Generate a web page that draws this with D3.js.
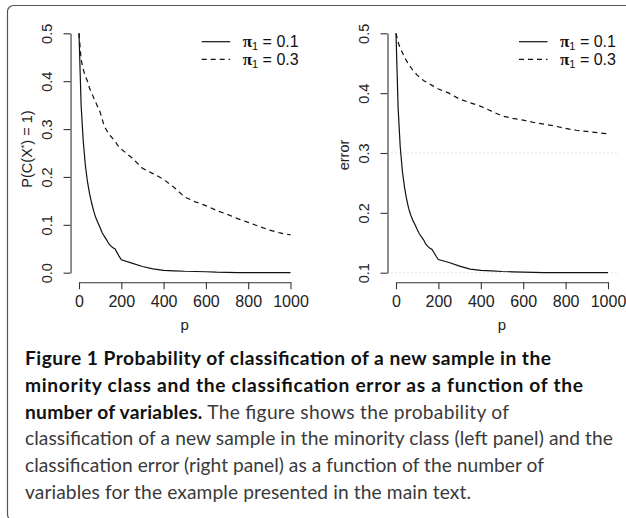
<!DOCTYPE html>
<html><head><meta charset="utf-8">
<script src="https://cdn.jsdelivr.net/npm/d3@7"></script>
<style>
html,body{margin:0;padding:0;background:#fff;}
svg{display:block;}
</style></head>
<body>
<svg id="fig" width="626" height="518"></svg>
<script>
// ---- data ----
const pValues = [0,10,20,30,40,50,60,70,80,90,100,110,120,130,140,150,160,170,180,190,200,
  250,300,350,400,450,500,550,600,650,700,750,800,850,900,950,1000];
const probPi01 = [0.5,0.35,0.275,0.225,0.19,0.165,0.145,0.128,0.114,0.104,0.094,0.083,0.076,0.069,0.061,0.056,0.052,0.05,0.042,0.034,0.027,
  0.02,0.013,0.008,0.005,0.004,0.003,0.0025,0.002,0.001,0.0005,0,0,0,0,0,0];
const probPi03 = [0.5,0.445,0.425,0.41,0.4,0.385,0.375,0.365,0.355,0.345,0.335,0.32,0.305,0.298,0.29,0.285,0.28,0.275,0.268,0.262,0.258,
  0.24,0.218,0.207,0.195,0.178,0.158,0.148,0.14,0.13,0.122,0.113,0.105,0.097,0.089,0.083,0.079];
const errPi01 = [0.5,0.375,0.31,0.27,0.243,0.223,0.207,0.196,0.187,0.18,0.172,0.165,0.16,0.155,0.148,0.144,0.141,0.139,0.133,0.127,0.122,
  0.117,0.111,0.106,0.104,0.103,0.102,0.1015,0.101,0.1005,0.1,0.1,0.1,0.1,0.1,0.1,0.1];
const errPi03 = [0.5,0.485,0.475,0.468,0.46,0.454,0.448,0.443,0.438,0.434,0.43,0.427,0.424,0.421,0.419,0.417,0.415,0.413,0.411,0.409,0.407,
  0.4,0.39,0.384,0.378,0.37,0.362,0.358,0.355,0.351,0.348,0.345,0.341,0.338,0.336,0.334,0.332];
const xTicks = [0,200,400,600,800,1000];
const yTicksLeft = [0,0.1,0.2,0.3,0.4,0.5];
const yTicksRight = [0.1,0.2,0.3,0.4,0.5];
const refLines = [0.3,0.1];
const legendLabels = ["0.1","0.3"];

const svg = d3.select("#fig");
svg.append("rect").attr("width",626).attr("height",518).attr("fill","#fff");
// figure frame
svg.append("rect").attr("x",7.5).attr("y",5.5).attr("width",700).attr("height",515)
  .attr("rx",6).attr("fill","none").attr("stroke","#555").attr("stroke-width",1.2);

const FONT = "'Liberation Sans', Arial, Helvetica, sans-serif";
const AX = "#333";

function panel(cfg){
  const g = svg.append("g");
  const x = d3.scaleLinear().domain([0,1000]).range(cfg.xr);
  const y = d3.scaleLinear().domain(cfg.yd).range([272.7,33.3]);
  const pad = (x(1000)-x(0))*0.04;
  const padY = (y.range()[0]-y.range()[1])*0.04;
  const axisLeftX = x(0)-pad, axisBottomY = y.range()[0]+padY;

  // reference dotted lines
  (cfg.refs||[]).forEach(v=>{
    g.append("line").attr("x1",x(-40)).attr("x2",x(1040)).attr("y1",y(v)).attr("y2",y(v))
      .attr("stroke","#c8c8c8").attr("stroke-width",1).attr("stroke-dasharray","1,3");
  });

  // x axis
  const xa = g.append("g").attr("transform",`translate(0,${axisBottomY})`)
    .call(d3.axisBottom(x).tickValues(xTicks).tickFormat(d3.format("d")).tickSize(7).tickSizeOuter(0));
  xa.select(".domain").attr("stroke",AX);
  xa.selectAll(".tick line").attr("stroke",AX);
  xa.selectAll(".tick text").attr("y",25).attr("dy",null).attr("fill","#222")
    .style("font-family",FONT).style("font-size","16px");
  // y axis
  const ya = g.append("g").attr("transform",`translate(${axisLeftX},0)`)
    .call(d3.axisLeft(y).tickValues(cfg.yt).tickFormat(d3.format(".1f")).tickSize(7).tickSizeOuter(0));
  ya.select(".domain").attr("stroke",AX);
  ya.selectAll(".tick line").attr("stroke",AX);
  ya.selectAll(".tick text").attr("x",null).attr("dy",null)
    .attr("transform","translate(-19,0) rotate(-90)").attr("text-anchor","middle").attr("fill","#222")
    .style("font-family",FONT).style("font-size","14.5px");
  g.selectAll(".domain, .tick line").attr("stroke-width",1.1);

  // axis titles
  g.append("text").attr("x",(x(0)+x(1000))/2).attr("y",330).attr("text-anchor","middle")
    .attr("fill","#222").style("font-family",FONT).style("font-size","15px").text("p");
  const yt = g.append("text").attr("transform",`translate(${axisLeftX-39},${cfg.ylabY}) rotate(-90)`)
    .attr("text-anchor","middle").attr("fill","#222").style("font-family",FONT).style("font-size","14.5px");
  cfg.ylab(yt);

  // lines
  const line = d3.line().x((d,i)=>x(pValues[i])).y(d=>y(d));
  g.append("path").datum(cfg.s1).attr("d",line).attr("fill","none").attr("stroke","#111").attr("stroke-width",1.2);
  g.append("path").datum(cfg.s2).attr("d",line).attr("fill","none").attr("stroke","#111").attr("stroke-width",1.2)
    .attr("stroke-dasharray","5,4");

  // legend
  const lx = cfg.legX;
  [0,1].forEach(i=>{
    const ly = 41.7 + i*17.6;
    g.append("line").attr("x1",lx).attr("x2",lx+28.5).attr("y1",ly).attr("y2",ly)
      .attr("stroke","#111").attr("stroke-width",1.2).attr("stroke-dasharray", i? "5,4" : null);
    const t = g.append("text").attr("x",lx+41).attr("y",ly+5.5).attr("fill","#111")
      .style("font-family",FONT).style("font-size","16px");
    t.append("tspan").style("font-family","'Liberation Serif', 'DejaVu Serif', serif").style("font-weight","bold")
      .style("font-size","17px").text("\u03C0");
    t.append("tspan").attr("dy",3).style("font-size","11px").text("1");
    t.append("tspan").attr("dy",-3).text(" = " + legendLabels[i]);
  });
}

panel({xr:[79,290.5], yd:[0,0.5], yt:yTicksLeft, s1:probPi01, s2:probPi03, legX:201.7, ylabY:149,
  ylab: t=>{ t.append("tspan").text("P(C(X");
             t.append("tspan").attr("dy",-5).style("font-size","9px").text("*");
             t.append("tspan").attr("dy",5).text(") = 1)"); }});
panel({xr:[396,608], yd:[0.1,0.5], yt:yTicksRight, s1:errPi01, s2:errPi03, legX:519, refs:refLines, ylabY:155,
  ylab: t=>{ t.text("error"); }});

// caption
const CAP = "Lato, 'Open Sans', sans-serif";
const capLines = [
  [["Figure 1 Probability of classification of a new sample in the", true]],
  [["minority class and the classification error as a function of the", true]],
  [["number of variables.", true], [" The figure shows the probability of", false]],
  [["classification of a new sample in the minority class (left panel) and the", false]],
  [["classification error (right panel) as a function of the number of", false]],
  [["variables for the example presented in the main text.", false]]
];
const capWidths = [526, 558, 484, 588, 519, 446];
const cap = svg.append("g");
capLines.forEach((parts,i)=>{
  const t = cap.append("text").attr("x",25).attr("y",365 + i*26.8)
    .attr("textLength",capWidths[i]).attr("lengthAdjust","spacing")
    .style("font-family",CAP).style("font-size","19.2px");
  parts.forEach(([s,b])=>{
    t.append("tspan").text(s).attr("fill", b ? "#111" : "#3a3a3a")
      .style("font-weight", b ? "bold" : "normal");
  });
});
</script>
</body></html>
